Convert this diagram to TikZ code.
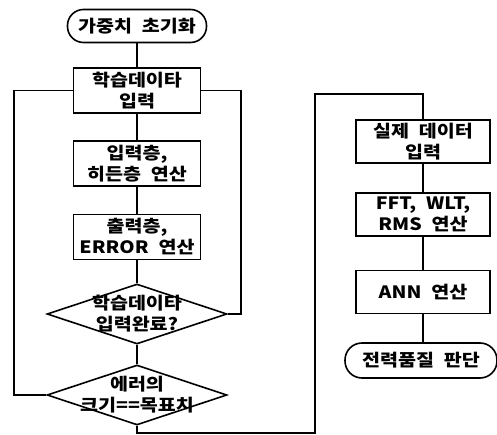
\documentclass[tikz,border=0pt]{standalone}
\usepackage{fontspec}
\newfontfamily\kr{Noto Sans CJK KR}[FakeStretch=1.15, WordSpace=2.2]
\usetikzlibrary{shapes.geometric}
\begin{document}
\begin{tikzpicture}[x=1pt,y=-1pt,
  every node/.style={font=\kr\bfseries\fontsize{17}{21}\selectfont, align=center, inner sep=0pt},
  ln/.style={line width=1.6pt},
  procbox/.style={draw, ln, rectangle, minimum width=127pt, minimum height=45pt},
  procboxr/.style={draw, ln, rectangle, minimum width=134pt, minimum height=43pt},
  term/.style={draw, ln, rectangle, rounded corners=16pt, minimum height=33pt},
  decide/.style={draw, ln, diamond, minimum width=180pt, minimum height=60pt}]
\useasboundingbox (0,0) rectangle (497,435);
\node[term, minimum width=139pt] (start) at (137,26) {가중치 초기화};
\node[procbox] (b1) at (137,90.5) {학습데이타\\입력};
\node[procbox] (b2) at (137,163.5) {입력층,\\히든층 연산};
\node[procbox] (b3) at (137,237) {출력층,\\ERROR 연산};
\node[decide, label={[inner sep=0pt]center:학습데이타\\입력완료?}] (d1) at (137,314) {};
\node[decide, label={[inner sep=0pt]center:에러의\\크기==목표치}] (d2) at (137,395) {};
\node[procboxr] (r1) at (423,141.5) {실제 데이터\\입력};
\node[procboxr] (r2) at (423,214.5) {FFT, WLT,\\RMS 연산};
\node[procboxr] (r3) at (423,292) {ANN 연산};
\node[term, minimum width=152pt, minimum height=35pt, rounded corners=17pt] (end) at (421,360.5) {전력품질 판단};
\coordinate (lx) at (14,0);
\coordinate (rx) at (241,0);
\coordinate (c1) at (315,433);
\coordinate (c2) at (315,94);
\draw[ln] (start) -- (b1);
\draw[ln] (b1) -- (b2);
\draw[ln] (b2) -- (b3);
\draw[ln] (b3) -- (d1);
\draw[ln] (d1) -- (d2);
\draw[ln] (d2.west) -- (lx |- d2.west) -- (lx |- b1.west) -- (b1.west);
\draw[ln] (d1.east) -- (rx |- d1.east) -- (rx |- b1.east) -- (b1.east);
\draw[ln] (d2.south) |- (c1) -- (c2) -| (r1.north);
\draw[ln] (r1) -- (r2);
\draw[ln] (r2) -- (r3);
\draw[ln] (r3.south) -- (r3.south |- end.north);
\end{tikzpicture}
\end{document}
